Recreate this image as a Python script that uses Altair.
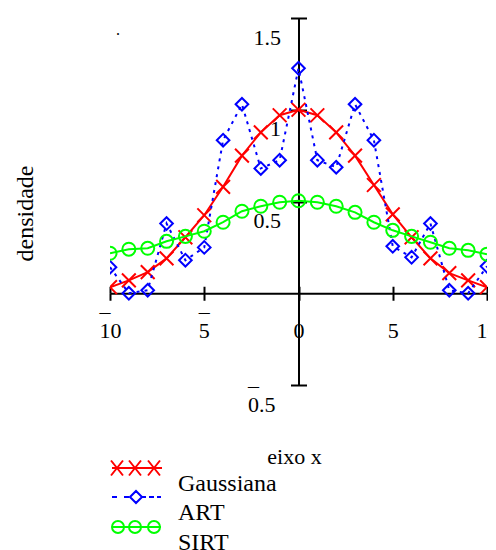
import altair as alt
import pandas as pd

# ---------------- data ----------------
x_vals = [-10, -9, -8, -7, -6, -5, -4, -3, -2, -1, 0, 1, 2, 3, 4, 5, 6, 7, 8, 9, 10]
gauss = [0.033, 0.07, 0.115, 0.19, 0.305, 0.425, 0.58, 0.75, 0.877, 0.97, 1.0,
         0.97, 0.877, 0.75, 0.59, 0.43, 0.305, 0.19, 0.11, 0.07, 0.033]
art = [0.142, 0.0, 0.016, 0.38, 0.18, 0.25, 0.834, 1.03, 0.68, 0.725, 1.226,
       0.725, 0.687, 1.03, 0.834, 0.256, 0.196, 0.38, 0.016, 0.0, 0.147]
sirt = [0.218, 0.24, 0.245, 0.283, 0.31, 0.338, 0.387, 0.447, 0.474, 0.496, 0.504,
        0.496, 0.474, 0.441, 0.387, 0.343, 0.31, 0.278, 0.245, 0.234, 0.213]
series_names = ["Gaussiana", "ART", "SIRT"]
series_colors = ["#ff0000", "#0000ff", "#00ff00"]
x_ticks = [-10, -5, 0, 5, 10]
y_ticks = [-0.5, 0.5, 1, 1.5]
x_title = "eixo x"
y_title = "densidade"

# ---------------- layout ----------------
FONT = "Liberation Serif"
W, H = 377, 367
X0 = W / 2.0                 # pixel of x = 0
Y0 = H * 1.5 / 2.0           # pixel of y = 0 from top

xs = alt.Scale(domain=[-10, 10], nice=False, zero=False)
ys = alt.Scale(domain=[-0.5, 1.5], nice=False, zero=False)

common = dict(domainColor="black", domainWidth=2, tickColor="black", tickWidth=2,
              grid=False, labelFont=FONT, labelFontSize=22, labelColor="black",
              labelOverlap=False, labelFlush=False, labelLineHeight=27)
# Mathcad style: the minus sign is drawn as a bar above-left of the number
label_expr = "datum.value < 0 ? ['_', '' + abs(datum.value)] : ['', '' + datum.value]"

x_axis_main = alt.Axis(orient="bottom", offset=-(H - Y0), values=x_ticks, tickSize=7,
                       labelExpr=label_expr, labelPadding=10, labelBaseline="alphabetic",
                       labelAlign={"condition": {"test": "datum.value < 0", "value": "left"},
                                   "value": "center"},
                       labelOffset={"condition": [{"test": "datum.value <= -10", "value": -11},
                                                  {"test": "datum.value < 0", "value": -6}],
                                    "value": 0},
                       title=x_title, titleFont=FONT, titleFontSize=22, titleFontWeight="normal",
                       titleColor="black", titleX=184, titleY=170, titleAlign="center",
                       titleBaseline="alphabetic", titleAnchor="middle", **common)
x_axis_top = alt.Axis(orient="top", offset=-Y0, values=x_ticks, tickSize=7, labels=False,
                      domain=False, title=None, **common)
y_axis_main = alt.Axis(orient="left", offset=-X0, values=y_ticks, tickSize=8,
                       labelExpr=label_expr, labelOffset=-1,
                       labelPadding={"condition": {"test": "datum.value < 0", "value": 43},
                                     "value": 10},
                       labelAlign={"condition": {"test": "datum.value < 0", "value": "left"},
                                   "value": "right"},
                       labelBaseline="alphabetic",
                       title=y_title, titleFont=FONT, titleFontSize=24, titleFontWeight="normal",
                       titleColor="black", titleX=-266, titleY=195, titleAngle=270,
                       titleAlign="center", titleBaseline="alphabetic", **common)
y_axis_right = alt.Axis(orient="right", offset=-X0, values=y_ticks, tickSize=8, labels=False,
                        domain=False, title=None, **common)

X_MARK = "M-1,-1L1,1M-1,1L1,-1"


def circ(cx, cy, r):
    return f"M{cx - r},{cy}A{r},{r} 0 1,0 {cx + r},{cy}A{r},{r} 0 1,0 {cx - r},{cy}"


LY = -1.6
red_sym = f"M-1,{LY}H4.0" + "".join(
    f"M{c - 0.6},{LY - 0.75}L{c + 0.6},{LY + 0.75}M{c - 0.6},{LY + 0.75}L{c + 0.6},{LY - 0.75}"
    for c in [-0.5, 1.3, 3.2])
blue_sym = "".join(f"M{a},{LY}H{b}" for a, b in [(-1, -0.5), (0.2, 0.7), (2.0, 2.4), (2.7, 3.2), (3.5, 3.9)]) + \
    f"M0.8,{LY}L1.4,{LY - 0.6}L2.0,{LY}L1.4,{LY + 0.6}Z"
green_sym = f"M-1,{LY}H3.9" + "".join(circ(c, LY, 0.6) for c in [-0.4, 1.3, 3.2])


def frame(vals):
    return pd.DataFrame({"x": x_vals, "y": vals})


def enc(chart, xa, ya):
    return chart.encode(x=alt.X("x:Q", scale=xs, axis=xa), y=alt.Y("y:Q", scale=ys, axis=ya))


layers = []
g = frame(gauss)
a = frame(art)
s = frame(sirt)
layers.append(enc(alt.Chart(g).mark_line(color=series_colors[0], strokeWidth=2, clip=True),
                  x_axis_main, y_axis_main))
layers.append(enc(alt.Chart(g).mark_point(shape=X_MARK, size=190, filled=False,
                                          color=series_colors[0], strokeWidth=2, opacity=1, clip=True),
                  x_axis_top, y_axis_right))
layers.append(enc(alt.Chart(a).mark_line(color=series_colors[1], strokeWidth=2,
                                         strokeDash=[3, 5], clip=True), None, None))
layers.append(enc(alt.Chart(a).mark_point(shape="diamond", size=160, filled=False,
                                          color=series_colors[1], strokeWidth=2, opacity=1, clip=True),
                  None, None))
layers.append(enc(alt.Chart(s).mark_line(color=series_colors[2], strokeWidth=2, clip=True), None, None))
layers.append(enc(alt.Chart(s).mark_point(shape="circle", size=170, filled=False,
                                          color=series_colors[2], strokeWidth=2, opacity=1, clip=True),
                  None, None))

leg_df = pd.DataFrame({"serie": series_names})
legend = alt.Legend(title=None, orient="none", legendX=0, legendY=454, symbolSize=400,
                    symbolStrokeWidth=2, labelFont=FONT, labelFontSize=24, labelColor="black",
                    labelOffset=44, labelBaseline="middle", rowPadding=-9, padding=0,
                    symbolOffset=0)
legend_layer = alt.Chart(leg_df).mark_point(filled=False, strokeWidth=2, opacity=1).encode(
    color=alt.Color("serie:N", scale=alt.Scale(domain=series_names, range=series_colors), legend=legend),
    shape=alt.Shape("serie:N", scale=alt.Scale(domain=series_names, range=[red_sym, blue_sym, green_sym]),
                    legend=legend),
).transform_filter("false")
layers.append(legend_layer)

chart = alt.layer(*layers).resolve_axis(x="independent", y="independent").properties(
    width=W, height=H,
    title=alt.TitleParams(".", anchor="start", frame="group", font=FONT, fontSize=16, color="black",
                          fontWeight="normal", dx=6, dy=43),
    autosize=alt.AutoSizeParams(type="none"),
    padding={"left": 102, "top": 10, "right": 1, "bottom": 165},
).configure_view(stroke=None)

chart.save("out.html", embed_options={"renderer": "svg", "actions": False})
